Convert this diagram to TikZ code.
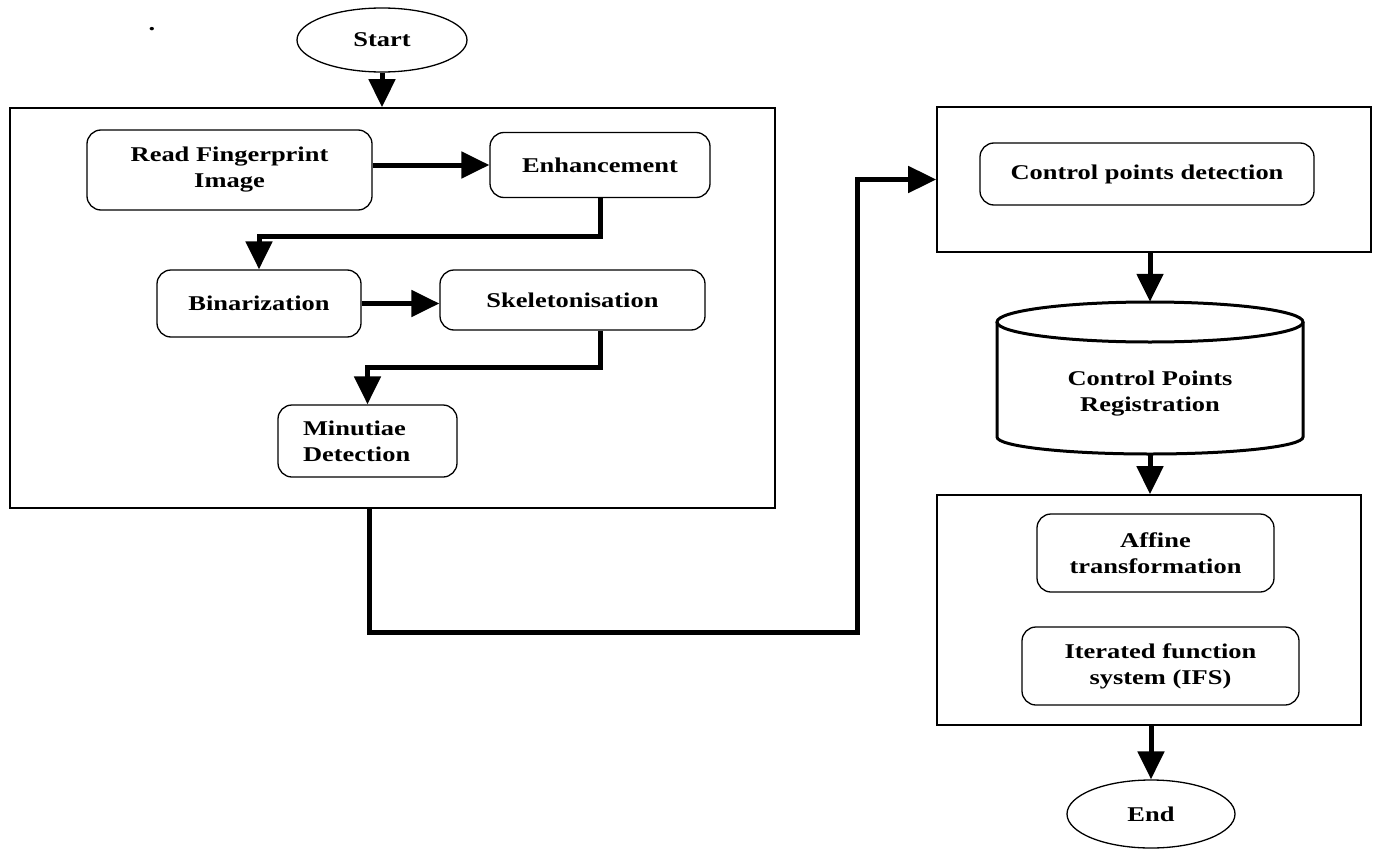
\documentclass[tikz,border=0pt]{standalone}
\usepackage{fontspec}
\newfontfamily\diagfont{Liberation Serif}[FakeStretch=1.26]
\usetikzlibrary{shapes.geometric,arrows.meta}
\newcommand\boxfont{\diagfont\bfseries\fontsize{21}{26}\selectfont}

\tikzset{
  proc/.style={draw, line width=1.3pt, rounded corners=14pt, align=center, font=\boxfont, inner sep=2pt},
  term/.style={draw, ellipse, line width=1.3pt, font=\boxfont, inner sep=0pt},
  frame/.style={draw, line width=1.6pt, inner sep=0pt},
  flow/.style={line width=5pt, -{Triangle[length=28pt,width=26pt]}},
}

\begin{document}
\begin{tikzpicture}[x=1pt, y=-1pt]
    \useasboundingbox (0,0) rectangle (1376,851);
    \node[font=\boxfont] (dot) at (152,29) {.};
    \node[term, minimum width=170, minimum height=64] (start) at (382,40) {Start};
    \node[frame, minimum width=765, minimum height=400] (prep) at (392.5,308) {};
    \node[proc, minimum width=285, minimum height=80] (read) at (229.5,170) {Read Fingerprint\\Image};
    \node[proc, minimum width=220, minimum height=65] (enh) at (600,165) {Enhancement};
    \node[proc, minimum width=204, minimum height=67] (bin) at (259,303.5) {Binarization};
    \node[proc, minimum width=265, minimum height=60] (skel) at (572.5,300) {Skeletonisation};
    \node[proc, align=left, text width=129, inner xsep=25pt, minimum height=72] (minu) at (367.5,441) {Minutiae\\Detection};
    \node[frame, minimum width=434, minimum height=145] (detgrp) at (1154,179.5) {};
    \node[proc, minimum width=334, minimum height=62] (cpd) at (1147,174) {Control points detection};
    \node[minimum width=306, minimum height=152, inner sep=0pt] (reg) at (1150,378) {};
    \draw[line width=3pt] (997,322) -- (997,437) arc[start angle=180, end angle=0, x radius=153, y radius=17] -- (1303,322);
    \draw[line width=3pt] (1150,322) ellipse [x radius=153, y radius=20];
    \node[align=center, font=\boxfont] (regtext) at (1150,394) {Control Points\\Registration};
    \node[frame, minimum width=424, minimum height=230] (ifsgrp) at (1149,610) {};
    \node[proc, minimum width=237, minimum height=78] (aff) at (1155.5,553) {Affine\\transformation};
    \node[proc, minimum width=277, minimum height=78] (ifs) at (1160.5,666) {Iterated function\\system (IFS)};
    \node[term, minimum width=168, minimum height=68] (end) at (1151,814) {End};
    \coordinate (bend) at (857,632);

    \draw[flow] (start.south) -- (start.south |- prep.north);
    \draw[flow] (read.east |- enh.west) -- (enh.west);
    \draw[flow] (enh.south) -- ++(0,38) -| (bin.north);
    \draw[flow] (bin.east) -- (bin.east -| skel.west);
    \draw[flow] ([xshift=28pt]skel.south) -- ++(0,37) -| (minu.north);
    \draw[flow] ([xshift=-23pt]prep.south) |- (bend) |- (detgrp.west);
    \draw[flow] (reg.north |- detgrp.south) -- (reg.north);
    \draw[flow] (reg.south) -- (reg.south |- ifsgrp.north);
    \draw[flow] (end.north |- ifsgrp.south) -- (end.north);
\end{tikzpicture}
\end{document}
